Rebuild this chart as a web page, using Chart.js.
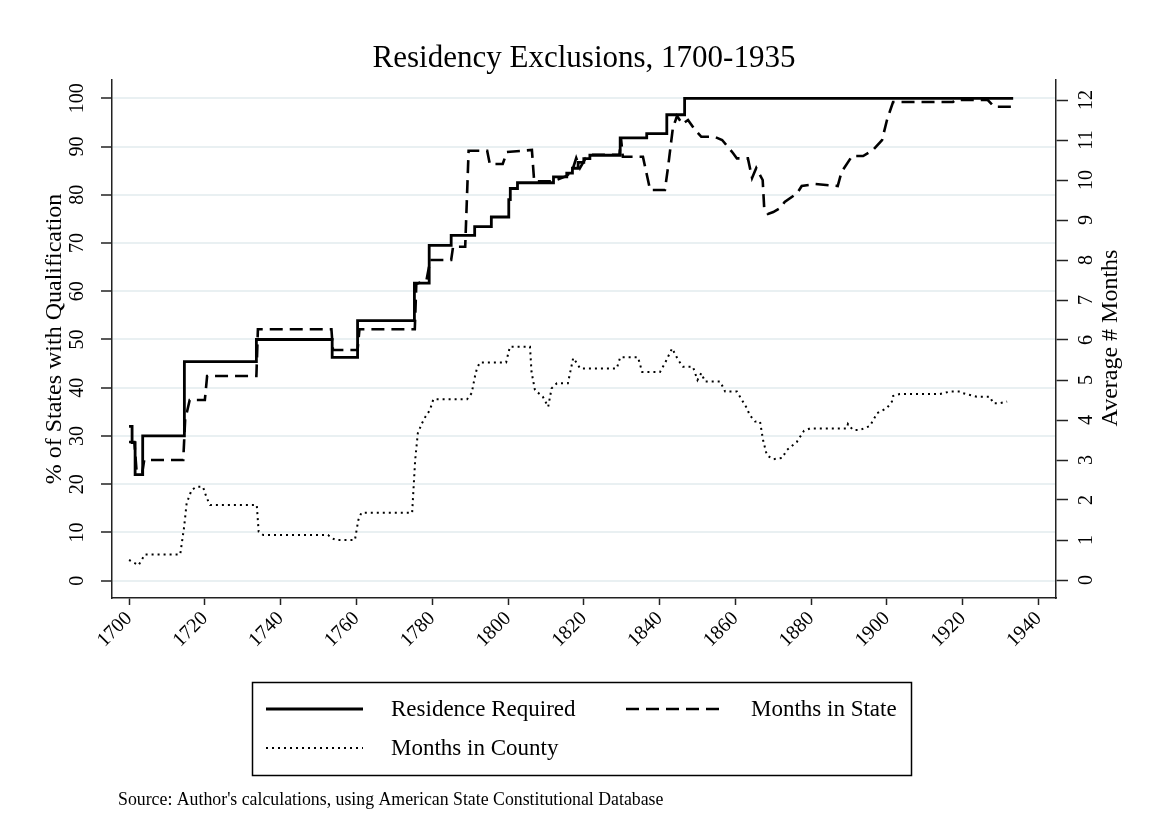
<!DOCTYPE html>
<html>
<head>
<meta charset="utf-8">
<script src="https://cdn.jsdelivr.net/npm/chart.js@4.4.0/dist/chart.umd.min.js"></script>
<style>
html, body { margin: 0; padding: 0; background: #ffffff; }
#wrap { width: 1153px; height: 839px; position: relative; }
canvas { display: block; }
</style>
</head>
<body>
<div id="wrap"><canvas id="c" width="1153" height="839"></canvas></div>
<script>
// ---------------- data ----------------
const chartTitle = 'Residency Exclusions, 1700-1935';
const leftAxisTitle = '% of States with Qualification';
const rightAxisTitle = 'Average # Months';
const sourceNote = "Source: Author's calculations, using American State Constitutional Database";
const seriesLabels = ['Residence Required', 'Months in State', 'Months in County'];

const xTickYears = [1700, 1720, 1740, 1760, 1780, 1800, 1820, 1840, 1860, 1880, 1900, 1920, 1940];
const leftTicks = [0, 10, 20, 30, 40, 50, 60, 70, 80, 90, 100];
const rightTicks = [0, 1, 2, 3, 4, 5, 6, 7, 8, 9, 10, 11, 12];

// Residence Required (% of states), step changes: value holds from the listed year
const residenceYears = [1700, 1700.8, 1701.6, 1703.6, 1714.6, 1733.6, 1753.6, 1760.3, 1775.3, 1779.2, 1785.0, 1791.2, 1795.6, 1800.2, 1800.6, 1802.5, 1812.0, 1815.5, 1817.0, 1818.5, 1820.0, 1821.6, 1829.6, 1836.6, 1841.9, 1846.6, 1933.3];
const residencePct   = [32,   28.6,   22,     30,     45.4,   50,     46.3,   53.9,   61.7,   69.5,   71.6,   73.4,   75.4,   79.0,   81.3,   82.5,   83.7,   84.5,   85.5,   86.7,   87.5,   88.2,   91.8,   92.7,   96.6,   100,    100];

// Months in State (right axis)
const stateYears  = [1700, 1701.4, 1702.0, 1703.5, 1704.0, 1714.3, 1714.8, 1716.0, 1720.0, 1720.6, 1733.6, 1734.0, 1753.4, 1753.8, 1760.3, 1760.8, 1775.4, 1775.8, 1778.5, 1779.5, 1785.0, 1785.5, 1788.7, 1789.6, 1794.5, 1795.2, 1798.6, 1799.7, 1806.3, 1806.9, 1812.0, 1815.5, 1817.0, 1818.0, 1819.0, 1820.5, 1822.0, 1829.4, 1829.8, 1830.3, 1835.6, 1837.5, 1841.4, 1842.2, 1843.5, 1844.6, 1846.0, 1847.5, 1849.0, 1851.0, 1854.5, 1856.5, 1859.4, 1860.4, 1863.3, 1864.4, 1865.5, 1867.2, 1867.6, 1868.6, 1870.0, 1871.8, 1873.0, 1876.3, 1877.5, 1881.0, 1887.0, 1888.0, 1890.8, 1893.7, 1896.3, 1898.7, 1900.0, 1901.6, 1917.4, 1918.0, 1926.6, 1928.3, 1933.2];
const stateMonths = [3.45, 3.45,   2.7,    2.7,    3.0,    3.0,    4.0,    4.5,    4.5,    5.1,    5.1,    6.27,   6.27,   5.75,   5.75,   6.27,   6.27,   7.4,    7.5,    8.0,    8.0,    8.33,   8.33,   10.73,  10.73,  10.4,   10.4,   10.7,   10.75,  9.97,   9.97,   10.1,   10.25,  10.55,  10.3,   10.55,  10.63,  10.63,  11.05,  10.58,  10.58,  9.75,   9.75,   10.3,   11.3,   11.6,   11.4,   11.5,   11.3,   11.08,  11.08,  11.0,   10.67,  10.54,  10.54,  10.05,  10.3,   10.0,   9.3,    9.15,   9.2,    9.3,    9.45,   9.67,   9.85,   9.9,    9.85,   10.2,   10.6,   10.6,   10.75,  11.0,   11.5,   11.95,  11.95,  12.0,   12.0,   11.83,  11.83];

// Months in County (right axis)
const countyYears  = [1700, 1702.5, 1704.2, 1713.5, 1714.5, 1715.2, 1716.5, 1717.8, 1719.5, 1720.5, 1721.4, 1733.7, 1734.2, 1735.4, 1752.5, 1753.5, 1754.5, 1759.6, 1760.5, 1761.3, 1774.7, 1775.5, 1776.2, 1777.3, 1778.2, 1779.4, 1780.3, 1789.2, 1790.4, 1791.3, 1791.8, 1792.6, 1799.5, 1799.9, 1800.5, 1805.8, 1806.2, 1807.1, 1809.2, 1810.6, 1811.5, 1812.9, 1815.8, 1817.2, 1818.2, 1819.0, 1828.7, 1829.6, 1834.3, 1835.4, 1840.1, 1841.4, 1843.3, 1844.9, 1846.2, 1848.8, 1850.0, 1851.0, 1852.0, 1856.0, 1857.3, 1860.4, 1863.0, 1863.8, 1865.2, 1866.5, 1867.3, 1868.3, 1870.0, 1872.3, 1873.6, 1876.2, 1878.1, 1879.7, 1889.4, 1889.7, 1891.0, 1892.9, 1895.5, 1897.4, 1900.0, 1901.3, 1901.6, 1903.4, 1914.0, 1916.6, 1919.3, 1920.0, 1923.7, 1927.2, 1928.0, 1929.8, 1931.7];
const countyMonths = [0.5,  0.37,   0.64,   0.64,   1.3,    1.92,   2.25,   2.33,   2.33,   2.05,   1.875,  1.875,  1.21,   1.125,  1.125,  1.05,   1.0,    1.0,    1.5,    1.68,   1.68,   3.0,    3.67,   3.92,   4.08,   4.25,   4.52,   4.52,   4.67,   5.1,    5.29,   5.44,   5.44,   5.6,    5.83,   5.83,   5.2,    4.75,   4.58,   4.33,   4.79,   4.92,   4.92,   5.55,   5.42,   5.29,   5.29,   5.57,   5.57,   5.2,    5.2,    5.42,   5.79,   5.5,    5.33,   5.33,   5.0,    5.17,   4.96,   4.96,   4.71,   4.71,   4.3,    4.12,   3.96,   3.96,   3.5,    3.12,   3.02,   3.05,   3.25,   3.45,   3.73,   3.79,   3.79,   3.9,    3.75,   3.75,   3.85,   4.17,   4.3,    4.46,   4.6,    4.65,   4.65,   4.71,   4.71,   4.67,   4.58,   4.58,   4.42,   4.42,   4.46];

// ---------------- chart ----------------
const SERIF = "'Liberation Serif', 'Times New Roman', serif";
const INK = '#000000';
const AXIS = '#222222';
const GRID = '#e9f0f2';

const toPoints = (xs, ys) => xs.map((x, i) => ({ x: x, y: ys[i] }));

const lineStyles = [
  { width: 2.8, dash: [] },
  { width: 2.6, dash: [13, 7] },
  { width: 2.0, dash: [2, 4] }
];

const decor = {
  id: 'decor',
  afterDraw(chart) {
    const { ctx, chartArea } = chart;
    const cx = (chartArea.left + chartArea.right) / 2;
    ctx.save();
    ctx.fillStyle = INK;
    ctx.textBaseline = 'middle';

    // title
    ctx.font = '31px ' + SERIF;
    ctx.textAlign = 'center';
    ctx.fillText(chartTitle, cx, 59);

    // right axis title (reads bottom to top)
    ctx.save();
    ctx.translate(1111, (chartArea.top + chartArea.bottom) / 2 - 1);
    ctx.rotate(-Math.PI / 2);
    ctx.font = '24px ' + SERIF;
    ctx.textAlign = 'center';
    ctx.fillText(rightAxisTitle, 0, 0);
    ctx.restore();

    // legend box
    ctx.strokeStyle = INK;
    ctx.lineWidth = 1.5;
    ctx.setLineDash([]);
    ctx.strokeRect(252.5, 682.5, 659, 93);

    const slots = [
      { x: 266, y: 709 },
      { x: 626, y: 709 },
      { x: 266, y: 748 }
    ];
    chart.data.datasets.forEach((ds, i) => {
      const s = slots[i];
      ctx.beginPath();
      ctx.lineWidth = ds.borderWidth;
      ctx.setLineDash(ds.borderDash || []);
      ctx.strokeStyle = ds.borderColor;
      ctx.moveTo(s.x, s.y);
      ctx.lineTo(s.x + 97, s.y);
      ctx.stroke();
      ctx.setLineDash([]);
      ctx.font = '23px ' + SERIF;
      ctx.textAlign = 'left';
      ctx.fillStyle = INK;
      ctx.fillText(ds.label, s.x + 125, s.y + 1);
    });

    // source note
    ctx.font = '17.8px ' + SERIF;
    ctx.textAlign = 'left';
    ctx.fillText(sourceNote, 118, 800);
    ctx.restore();
  }
};

new Chart(document.getElementById('c'), {
  type: 'line',
  data: {
    datasets: [
      {
        label: seriesLabels[0],
        data: toPoints(residenceYears, residencePct),
        yAxisID: 'y',
        borderColor: INK,
        borderWidth: lineStyles[0].width,
        borderDash: lineStyles[0].dash,
        stepped: true,
        pointRadius: 0,
        fill: false
      },
      {
        label: seriesLabels[1],
        data: toPoints(stateYears, stateMonths),
        yAxisID: 'y1',
        borderColor: INK,
        borderWidth: lineStyles[1].width,
        borderDash: lineStyles[1].dash,
        pointRadius: 0,
        tension: 0,
        fill: false
      },
      {
        label: seriesLabels[2],
        data: toPoints(countyYears, countyMonths),
        yAxisID: 'y1',
        borderColor: INK,
        borderWidth: lineStyles[2].width,
        borderDash: lineStyles[2].dash,
        pointRadius: 0,
        tension: 0,
        fill: false
      }
    ]
  },
  options: {
    responsive: false,
    devicePixelRatio: 1,
    animation: false,
    events: [],
    layout: { padding: { top: 80, left: 0, right: 0, bottom: 0 } },
    plugins: {
      legend: { display: false },
      title: { display: false },
      tooltip: { enabled: false }
    },
    scales: {
      x: {
        type: 'linear',
        position: 'bottom',
        min: 1695.5,
        max: 1944.6,
        afterBuildTicks: (s) => { s.ticks = xTickYears.map(v => ({ value: v })); },
        afterFit: (s) => { s.height = 241; },
        grid: { drawOnChartArea: false, drawTicks: true, tickLength: 7, tickColor: AXIS, tickWidth: 1.5 },
        border: { display: true, color: AXIS, width: 1.5 },
        ticks: {
          autoSkip: false,
          minRotation: 45,
          maxRotation: 45,
          padding: 2,
          color: INK,
          font: { family: SERIF, size: 20 },
          callback: (v) => String(v)
        }
      },
      y: {
        type: 'linear',
        position: 'left',
        min: -3.6,
        max: 103.8,
        afterBuildTicks: (s) => { s.ticks = leftTicks.map(v => ({ value: v })); },
        afterFit: (s) => { s.width = 112; },
        grid: { drawOnChartArea: true, color: GRID, lineWidth: 2, drawTicks: true, tickLength: 11, tickColor: AXIS, tickWidth: 1.5 },
        border: { display: true, color: AXIS, width: 1.5 },
        ticks: {
          autoSkip: false,
          minRotation: 90,
          maxRotation: 90,
          crossAlign: 'center',
          padding: 8,
          color: INK,
          font: { family: SERIF, size: 20 },
          callback: (v) => String(v)
        },
        title: {
          display: true,
          text: leftAxisTitle,
          color: INK,
          font: { family: SERIF, size: 24 },
          padding: { top: 40, bottom: 0 }
        }
      },
      y1: {
        type: 'linear',
        position: 'right',
        min: -0.45,
        max: 12.5,
        afterBuildTicks: (s) => { s.ticks = rightTicks.map(v => ({ value: v })); },
        afterFit: (s) => { s.width = 97; },
        grid: { drawOnChartArea: false, drawTicks: true, tickLength: 12, tickColor: AXIS, tickWidth: 1.5 },
        border: { display: true, color: AXIS, width: 1.5 },
        ticks: {
          autoSkip: false,
          minRotation: 90,
          maxRotation: 90,
          crossAlign: 'center',
          padding: 9,
          color: INK,
          font: { family: SERIF, size: 20 },
          callback: (v) => String(v)
        }
      }
    }
  },
  plugins: [decor]
});
</script>
</body>
</html>
